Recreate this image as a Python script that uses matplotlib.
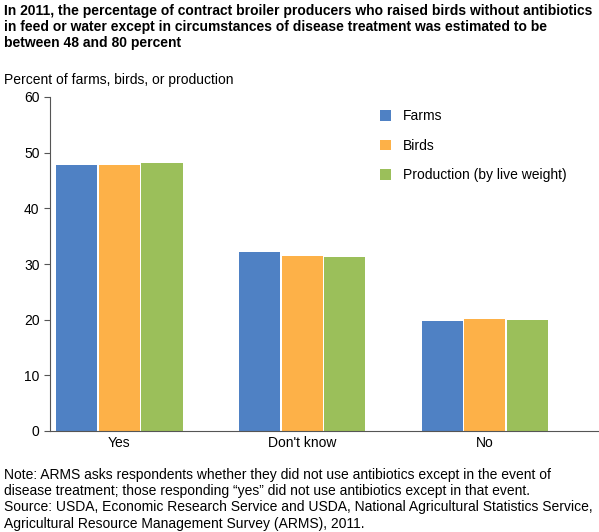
import matplotlib
matplotlib.use("Agg")
import matplotlib.pyplot as plt
import numpy as np

plt.rcParams['font.family'] = ['Liberation Sans', 'DejaVu Sans']

categories = ["Yes", "Don't know", "No"]
series = ["Farms", "Birds", "Production (by live weight)"]
farms = [47.7, 32.1, 19.7]
birds = [47.7, 31.5, 20.2]
production = [48.1, 31.3, 20.0]
colors = ["#4f81c4", "#fdb148", "#9bbf5a"]

W, H = 599, 532
fig = plt.figure(figsize=(W/100, H/100), dpi=100)
ax = fig.add_axes([50/W, 1-431/H, 548/W, (431-97)/H])

x = np.arange(len(categories))
bw = 0.225
for i, (vals, name) in enumerate(zip([farms, birds, production], series)):
    ax.bar(x + (i-1)*(bw+0.008), vals, bw, color=colors[i], label=name)

ax.set_xlim(-0.38, 2.62)
ax.set_ylim(0, 60)
ax.set_yticks(range(0, 61, 10))
ax.set_xticks(x)
ax.set_xticklabels(categories)
ax.tick_params(labelsize=10, length=0)
for s in ["top", "right"]:
    ax.spines[s].set_visible(False)
ax.spines["left"].set_color("#555555")
ax.spines["bottom"].set_color("#555555")
ax.tick_params(axis="y", length=4, direction="out", color="#555555")

ax.legend(loc="upper left", bbox_to_anchor=(0.58, 1.0), frameon=False,
          fontsize=10, labelspacing=1.1, handlelength=0.8, handleheight=0.8)

fig.text(4/W, 1-4/H, "In 2011, the percentage of contract broiler producers who raised birds without antibiotics\nin feed or water except in circumstances of disease treatment was estimated to be\nbetween 48 and 80 percent",
         fontsize=10, fontweight="bold", va="top", linespacing=1.2)
fig.text(4/W, 1-73/H, "Percent of farms, birds, or production", fontsize=10, va="top")
fig.text(4/W, 1-468/H, "Note: ARMS asks respondents whether they did not use antibiotics except in the event of\ndisease treatment; those responding \u201cyes\u201d did not use antibiotics except in that event.\nSource: USDA, Economic Research Service and USDA, National Agricultural Statistics Service,\nAgricultural Resource Management Survey (ARMS), 2011.",
         fontsize=10, va="top", linespacing=1.2)

fig.savefig("out.png", dpi=100)
